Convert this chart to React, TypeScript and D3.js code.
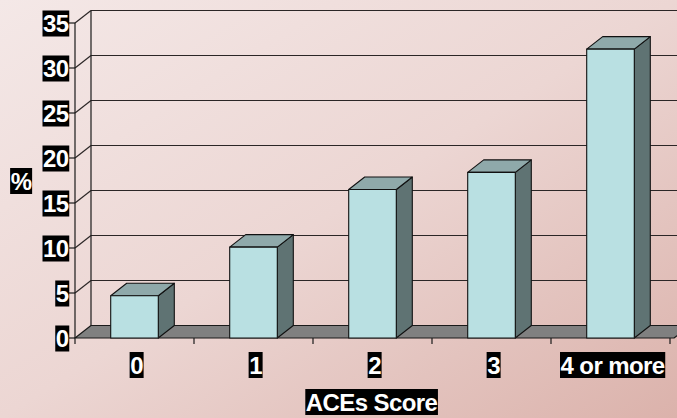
import React, { useEffect, useRef } from "react";
import * as d3 from "d3";

const categories = ["0", "1", "2", "3", "4 or more"];
const percentValues = [4.7, 10.1, 16.5, 18.4, 32.1];
const yTicks = [0, 5, 10, 15, 20, 25, 30, 35];
const xTitle = "ACEs Score";
const yTitle = "%";

const W = 677;
const H = 418;
const DX = 16;
const DY = -12.5;
const FONT = "'Liberation Sans', Arial, sans-serif";

export default function App() {
  const ref = useRef<SVGSVGElement | null>(null);

  useEffect(() => {
    const svg = d3.select(ref.current);
    svg.selectAll("*").remove();

    const defs = svg.append("defs");
    const grad = defs
      .append("linearGradient")
      .attr("id", "bg")
      .attr("x1", "0")
      .attr("y1", "0")
      .attr("x2", "1")
      .attr("y2", "1");
    grad.append("stop").attr("offset", "0").attr("stop-color", "#f4e8e7");
    grad.append("stop").attr("offset", "0.5").attr("stop-color", "#ecd6d3");
    grad.append("stop").attr("offset", "1").attr("stop-color", "#dbb2ab");

    svg.append("rect").attr("width", W).attr("height", H).attr("fill", "url(#bg)");

    const x = d3.scaleBand<string>().domain(categories).range([75, 670]).padding(0);
    const y = d3.scaleLinear().domain([0, 35]).range([338, 23]);
    const x0 = x.range()[0];
    const x1 = x.range()[1];
    const floorRight = x1 + 4;

    const g = svg.append("g");

    // back wall gridlines
    g.selectAll("line.grid")
      .data(yTicks.filter((t) => t > 0))
      .join("line")
      .attr("x1", x0 + DX)
      .attr("x2", W + 20)
      .attr("y1", (d) => y(d) + DY)
      .attr("y2", (d) => y(d) + DY)
      .attr("stroke", "#2b2626")
      .attr("stroke-width", 1.2);

    // side wall: diagonals and back vertical
    g.selectAll("line.diag")
      .data(yTicks.filter((t) => t > 0))
      .join("line")
      .attr("x1", x0)
      .attr("x2", x0 + DX)
      .attr("y1", (d) => y(d))
      .attr("y2", (d) => y(d) + DY)
      .attr("stroke", "#2b2626")
      .attr("stroke-width", 1.2);
    g.append("line")
      .attr("x1", x0 + DX)
      .attr("x2", x0 + DX)
      .attr("y1", y(35) + DY)
      .attr("y2", y(0) + DY)
      .attr("stroke", "#1a1a1a")
      .attr("stroke-width", 1.2);

    // floor
    g.append("path")
      .attr(
        "d",
        `M${x0},${y(0)} L${floorRight},${y(0)} L${floorRight + DX},${y(0) + DY} L${x0 + DX},${y(0) + DY} Z`
      )
      .attr("fill", "#808080")
      .attr("stroke", "#1a1a1a")
      .attr("stroke-width", 1.2)
      .attr("stroke-linejoin", "round");

    // front axis line and ticks
    g.append("line")
      .attr("x1", x0)
      .attr("x2", x0)
      .attr("y1", y(35))
      .attr("y2", y(0))
      .attr("stroke", "#1a1a1a")
      .attr("stroke-width", 1.2);
    g.selectAll("line.ytick")
      .data(yTicks)
      .join("line")
      .attr("x1", x0 - 6)
      .attr("x2", x0)
      .attr("y1", (d) => y(d))
      .attr("y2", (d) => y(d))
      .attr("stroke", "#1a1a1a")
      .attr("stroke-width", 1.2);
    const bounds = [...categories.map((c) => x(c) as number), x1];
    g.selectAll("line.xtick")
      .data(bounds)
      .join("line")
      .attr("x1", (d) => d)
      .attr("x2", (d) => d)
      .attr("y1", y(0))
      .attr("y2", y(0) + 6)
      .attr("stroke", "#1a1a1a")
      .attr("stroke-width", 1.2);

    // bars
    const bw = x.bandwidth() * 0.4;
    const bars = g
      .selectAll("g.bar")
      .data(categories.map((c, i) => ({ c, v: percentValues[i] })))
      .join("g");
    bars.each(function (d) {
      const bg = d3.select(this);
      const cx = (x(d.c) as number) + x.bandwidth() / 2;
      const l = cx - bw / 2;
      const r = cx + bw / 2;
      const t = y(d.v);
      const b = y(0);
      const style = (s: any) =>
        s.attr("stroke", "#111").attr("stroke-width", 1.1).attr("stroke-linejoin", "round");
      style(
        bg
          .append("path")
          .attr("d", `M${r},${b} L${r + DX},${b + DY} L${r + DX},${t + DY} L${r},${t} Z`)
          .attr("fill", "#5f7373")
      );
      style(
        bg
          .append("path")
          .attr("d", `M${l},${t} L${r},${t} L${r + DX},${t + DY} L${l + DX},${t + DY} Z`)
          .attr("fill", "#8fa9aa")
      );
      style(
        bg
          .append("rect")
          .attr("x", l)
          .attr("y", t)
          .attr("width", bw)
          .attr("height", b - t)
          .attr("fill", "#b9e0e2")
      );
    });

    // labels: white bold text on black boxes
    const label = (
      txt: string,
      px: number,
      py: number,
      anchor: "start" | "middle" | "end"
    ) => {
      const lg = svg.append("g");
      const rect = lg.append("rect").attr("fill", "#000");
      const t = lg
        .append("text")
        .attr("x", px)
        .attr("y", py)
        .attr("text-anchor", anchor)
        .attr("dominant-baseline", "central")
        .attr("font-family", FONT)
        .attr("font-weight", "bold")
        .attr("font-size", 24)
        .attr("letter-spacing", "-0.6px")
        .attr("fill", "#fff")
        .text(txt);
      const bb = (t.node() as SVGTextElement).getBBox();
      rect
        .attr("x", bb.x - 0.5)
        .attr("y", bb.y + 0.5)
        .attr("width", bb.width + 1)
        .attr("height", bb.height - 1);
    };

    yTicks.forEach((t) => label(String(t), x0 - 6.5, y(t) + 0.5, "end"));
    categories.forEach((c) =>
      label(c, (x(c) as number) + x.bandwidth() / 2 + 2, 365, "middle")
    );
    label(xTitle, (x0 + x1) / 2 - 1, 402, "middle");
    label(yTitle, 21, 181, "middle");
  }, []);

  return (
    <svg
      ref={ref}
      width={W}
      height={H}
      style={{ position: "absolute", left: 0, top: 0, display: "block" }}
    />
  );
}
